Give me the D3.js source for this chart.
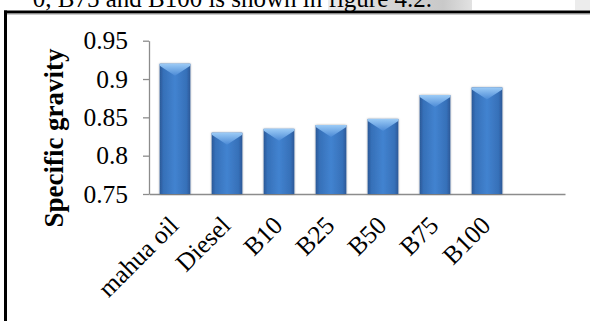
<!DOCTYPE html>
<html>
<head>
<meta charset="utf-8">
<script src="https://cdn.jsdelivr.net/npm/d3@7"></script>
<style>
  html, body { margin: 0; padding: 0; background: #fff; }
  svg { display: block; }
</style>
</head>
<body>
<div id="chart"></div>
<script>
// Specific gravity of mahua oil, diesel and their blends
const categories = ["mahua oil", "Diesel", "B10", "B25", "B50", "B75", "B100"];
const gravity = [0.92, 0.83, 0.835, 0.84, 0.848, 0.879, 0.889];
const yTicks = [0.75, 0.8, 0.85, 0.9, 0.95];
const yTickLabels = ["0.75", "0.8", "0.85", "0.9", "0.95"];
const slotCount = 8; // the plot reserves one empty slot after B100

const W = 590, H = 321;
const svg = d3.select("#chart").append("svg")
  .attr("width", W).attr("height", H);

const defs = svg.append("defs");
const side = defs.append("linearGradient").attr("id", "barSide")
  .attr("x1", "0").attr("x2", "1").attr("y1", "0").attr("y2", "0");
[["0%", "#2a5896"], ["12%", "#3670b8"], ["50%", "#4283d0"], ["88%", "#3670b8"], ["100%", "#2a5896"]]
  .forEach(([o, c]) => side.append("stop").attr("offset", o).attr("stop-color", c));
const bevel = defs.append("linearGradient").attr("id", "barTop")
  .attr("x1", "0").attr("x2", "0").attr("y1", "0").attr("y2", "1");
[["0%", "#9ccbf6"], ["100%", "#4b8ad6"]]
  .forEach(([o, c]) => bevel.append("stop").attr("offset", o).attr("stop-color", c));
const band = defs.append("linearGradient").attr("id", "pageBand")
  .attr("x1", "0").attr("x2", "1").attr("y1", "0").attr("y2", "0");
[["0%", "#ececec"], ["45%", "#d4d4d4"], ["80%", "#c9c9c9"], ["100%", "#e2e2e2"]]
  .forEach(([o, c]) => band.append("stop").attr("offset", o).attr("stop-color", c));
const shadow = defs.append("filter").attr("id", "soft")
  .attr("x", "-30%").attr("y", "-10%").attr("width", "160%").attr("height", "120%");
shadow.append("feDropShadow").attr("dx", 0).attr("dy", 0).attr("stdDeviation", 1.2)
  .attr("flood-color", "#000").attr("flood-opacity", 0.35);

const serif = "'Liberation Serif', 'Times New Roman', serif";

// Strip of the surrounding document above the chart frame
svg.append("rect").attr("x", 328).attr("y", 0).attr("width", 144).attr("height", 10)
  .attr("fill", "url(#pageBand)");
svg.append("rect").attr("x", 575).attr("y", 0).attr("width", 15).attr("height", 10)
  .attr("fill", "#ececec");
svg.append("text")
  .attr("x", 432).attr("y", 6.5)
  .attr("text-anchor", "end")
  .style("font-family", serif)
  .style("font-size", "25px")
  .attr("fill", "#000")
  .text("0, B75 and B100 is shown in figure 4.2.");

// Chart frame
svg.append("rect").attr("x", 4).attr("y", 13).attr("width", W).attr("height", 1.5).attr("fill", "#9a9a9a");
svg.append("rect").attr("x", 4).attr("y", 10.5).attr("width", W).attr("height", 2.6).attr("fill", "#000");
svg.append("rect").attr("x", 4).attr("y", 10.5).attr("width", 3).attr("height", H).attr("fill", "#000");

// Scales
const plotLeft = 149, plotRight = 565, plotTop = 40.7, plotBottom = 194;
const x = d3.scaleBand().domain(d3.range(slotCount))
  .range([plotLeft, plotRight]).paddingInner(0.41).paddingOuter(0.205);
const y = d3.scaleLinear().domain([0.75, 0.95]).range([plotBottom, plotTop]);

const axisColor = "#8c8c8c";

// Y axis
const yAxis = d3.axisLeft(y).tickValues(yTicks)
  .tickFormat((d, i) => yTickLabels[i]).tickSize(6).tickSizeOuter(0).tickPadding(15);
const gy = svg.append("g").attr("transform", `translate(${plotLeft},0)`).call(yAxis);
gy.select(".domain").attr("stroke", axisColor).attr("stroke-width", 1.3);
gy.selectAll(".tick line").attr("stroke", axisColor).attr("stroke-width", 1.3);
gy.selectAll(".tick text")
  .style("font-family", serif).style("font-size", "25.5px").attr("fill", "#000");

// X axis
const xAxis = d3.axisBottom(x).tickSize(0).tickSizeOuter(0).tickFormat(i => categories[i] || "");
const gx = svg.append("g").attr("transform", `translate(0,${plotBottom})`).call(xAxis);
gx.select(".domain").attr("stroke", axisColor).attr("stroke-width", 1.3);
gx.selectAll(".tick text")
  .style("font-family", serif).style("font-size", "25.5px").attr("fill", "#000")
  .attr("text-anchor", "end")
  .attr("dy", "0")
  .attr("y", 0)
  .attr("transform", "translate(5,33) rotate(-45)");

// Bars
const bars = svg.append("g").selectAll("g.bar")
  .data(gravity.map((v, i) => ({ i, v })))
  .join("g").attr("class", "bar");

bars.append("rect")
  .attr("x", d => x(d.i))
  .attr("y", d => y(d.v))
  .attr("width", x.bandwidth())
  .attr("height", d => plotBottom - y(d.v))
  .attr("fill", "url(#barSide)")
  .attr("filter", "url(#soft)");

bars.append("path")
  .attr("d", d => {
    const x0 = x(d.i), w = x.bandwidth(), t = y(d.v);
    return `M${x0},${t} L${x0 + w},${t} L${x0 + w},${t + 2} L${x0 + w / 2},${t + 12} L${x0},${t + 2} Z`;
  })
  .attr("fill", "url(#barTop)");

// Y axis title
svg.append("text")
  .attr("transform", "translate(63,138) rotate(-90)")
  .attr("text-anchor", "middle")
  .style("font-family", serif).style("font-size", "27px").style("font-weight", "bold")
  .attr("fill", "#000")
  .text("Specific gravity");
</script>
</body>
</html>
